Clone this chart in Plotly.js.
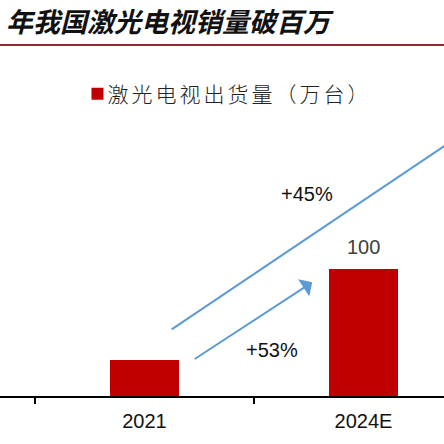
<!DOCTYPE html>
<html><head><meta charset="utf-8">
<script src="https://cdn.plot.ly/plotly-3.0.1.min.js"></script>
<style>html,body{margin:0;padding:0;background:#fff;overflow:hidden;}</style>
</head><body><div id="chart" style="width:444px;height:444px;"></div>
<script>
const categories = ['2021', '2024E'];
const shipments = [28, 100];
const seriesName = '激光电视出货量（万台）';
const chartTitle = '年我国激光电视销量破百万';
const growthLabels = ['+53%', '+45%'];

const barColor = '#c00000';
const arrowColor = '#5b9bd5';

const trace = {
  type: 'bar',
  x: categories,
  y: shipments,
  name: seriesName,
  width: 0.315,
  marker: {color: barColor},
  showlegend: true,
  hoverinfo: 'skip'
};

const valueLabels = categories.map((c, i) => ({
  x: c, y: shipments[i], xref: 'x', yref: 'y',
  text: String(shipments[i]), showarrow: false,
  yanchor: 'bottom', yshift: 9,
  font: {family: 'Liberation Sans, Arial, sans-serif', size: 20, color: '#404040'}
}));

const layout = {
  width: 444, height: 444,
  margin: {l: 0, r: 0, t: 0, b: 48},
  paper_bgcolor: '#fff', plot_bgcolor: '#fff',
  bargap: 0,
  xaxis: {
    type: 'category', range: [-0.6598, 1.3676],
    showline: true, linecolor: '#000', linewidth: 1.5,
    ticks: 'outside', tickson: 'boundaries', ticklen: 6, tickwidth: 1.5, tickcolor: '#000',
    showgrid: false, zeroline: false, ticklabelstandoff: 6,
    tickfont: {family: 'Liberation Sans, Arial, sans-serif', size: 20, color: '#111'},
    fixedrange: true
  },
  yaxis: {range: [0, 311.8], visible: false, showgrid: false, zeroline: false, fixedrange: true},
  showlegend: true,
  legend: {
    x: 77.5 / 444, xanchor: 'left', y: 0.7626, yanchor: 'middle',
    bgcolor: 'rgba(0,0,0,0)', borderwidth: 0,
    font: {family: 'Noto Sans CJK SC, sans-serif', size: 21, color: '#222', weight: 300}
  },
  shapes: [
    {type: 'line', xref: 'paper', yref: 'paper', x0: 0, x1: 1, y0: 1 - 45 / 396, y1: 1 - 45 / 396,
     line: {color: '#9b2335', width: 2}},
    {type: 'line', xref: 'x', yref: 'y', x0: 0.1242, y0: 52.5, x1: 1.532, y1: 215.7,
     line: {color: arrowColor, width: 2}}
  ],
  annotations: [
    {xref: 'paper', yref: 'paper', x: 4 / 444, y: 1 - 21 / 396, xanchor: 'left', yanchor: 'middle',
     text: '<b><i>' + chartTitle + '</i></b>', showarrow: false,
     font: {family: 'Noto Sans CJK SC, sans-serif', size: 27, color: '#111'}},
    {xref: 'x', yref: 'y', axref: 'x', ayref: 'y', x: 0.766, y: 89.5, ax: 0.2224, ay: 28.35,
     text: '', showarrow: true, arrowhead: 1, arrowsize: 1.7, arrowwidth: 2, arrowcolor: arrowColor},
    {xref: 'x', yref: 'y', x: 0.581, y: 36.2, text: growthLabels[0], showarrow: false,
     font: {family: 'Liberation Sans, Arial, sans-serif', size: 20, color: '#111'}},
    {xref: 'x', yref: 'y', x: 0.74, y: 159, text: growthLabels[1], showarrow: false,
     font: {family: 'Liberation Sans, Arial, sans-serif', size: 20, color: '#111'}}
  ].concat(valueLabels)
};

Plotly.newPlot('chart', [trace], layout, {displayModeBar: false, staticPlot: true}).then(() => {
  document.querySelectorAll('.legendtext').forEach(el => {
    el.style.letterSpacing = '3px';
    el.setAttribute('x', 30);
  });
});
</script>
</body></html>
